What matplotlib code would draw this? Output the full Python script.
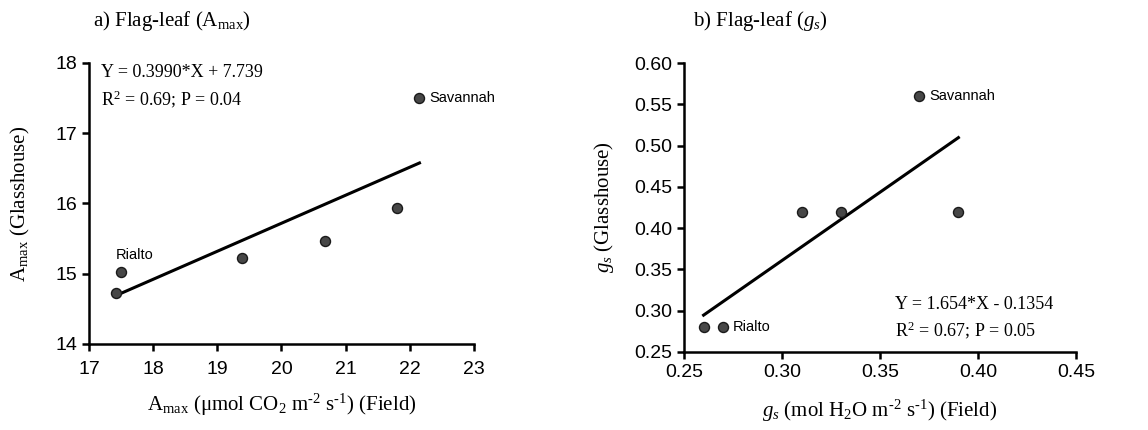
import matplotlib
matplotlib.use('Agg')
import matplotlib.pyplot as plt
import numpy as np

plt.rcParams['mathtext.fontset'] = 'custom'
plt.rcParams['mathtext.rm'] = 'Liberation Serif'
plt.rcParams['mathtext.it'] = 'Liberation Serif:italic'
plt.rcParams['mathtext.bf'] = 'Liberation Serif:bold'

SERIF = 'Liberation Serif'
SANS = 'Liberation Sans'

# a) Amax
amax_field = [17.42, 17.5, 19.38, 20.68, 21.8, 22.15]
amax_glass = [14.73, 15.03, 15.22, 15.47, 15.94, 17.5]
amax_slope, amax_icpt = 0.3990, 7.739

# b) gs
gs_field = [0.26, 0.27, 0.31, 0.33, 0.39, 0.37]
gs_glass = [0.28, 0.28, 0.42, 0.42, 0.42, 0.56]
gs_slope, gs_icpt = 1.654, -0.1354

fig = plt.figure(figsize=(11.48, 4.30), dpi=100)
ax1 = fig.add_axes([0.0775, 0.2, 0.3354, 0.6535])
ax2 = fig.add_axes([0.5958, 0.1814, 0.3415, 0.672])


def style(ax):
    for s in ['top', 'right']:
        ax.spines[s].set_visible(False)
    for s in ['left', 'bottom']:
        ax.spines[s].set_linewidth(1.8)
    ax.tick_params(width=1.8, length=5, labelsize=14, direction='out')
    for lab in ax.get_xticklabels() + ax.get_yticklabels():
        lab.set_family(SANS)


def panel(ax, x, y, slope, icpt):
    xs = np.array([min(x), max(x)])
    ax.plot(xs, slope * xs + icpt, color='black', lw=2.2, zorder=2)
    ax.scatter(x, y, s=52, color='#474747', edgecolor='#1a1a1a', lw=1, zorder=3)


panel(ax1, amax_field, amax_glass, amax_slope, amax_icpt)
ax1.set_xlim(17, 23)
ax1.set_ylim(14, 18)
ax1.set_xticks(range(17, 24))
ax1.set_yticks(range(14, 19))
style(ax1)
ax1.tick_params(axis='x', pad=7)
ax1.annotate('Savannah', (amax_field[5], amax_glass[5]), xytext=(7, 0),
             textcoords='offset points', va='center', ha='left', family=SANS, fontsize=10.5)
ax1.annotate('Rialto', (amax_field[1], amax_glass[1]), xytext=(-4, 7),
             textcoords='offset points', va='bottom', ha='left', family=SANS, fontsize=10.5)
ax1.text(0.03, 0.995, 'Y = 0.3990*X + 7.739\nR$^2$ = 0.69; P = 0.04', transform=ax1.transAxes,
         va='top', ha='left', family=SERIF, fontsize=13, linespacing=1.4)
ax1.set_xlabel(r'A$_{\mathrm{max}}$ ($\mathrm{\mu}$mol CO$_2$ m$^{\text{-2}}$ s$^{\text{-1}}$) (Field)',
               family=SERIF, fontsize=15, labelpad=10)
ax1.set_ylabel(r'A$_{\mathrm{max}}$ (Glasshouse)', family=SERIF, fontsize=15, labelpad=17)
fig.text(0.150, 0.952, r'a) Flag-leaf (A$_{\mathrm{max}}$)', family=SERIF, fontsize=15,
         va='center', ha='center')

panel(ax2, gs_field, gs_glass, gs_slope, gs_icpt)
ax2.set_xlim(0.25, 0.45)
ax2.set_ylim(0.25, 0.60)
ax2.set_xticks(np.arange(0.25, 0.451, 0.05))
ax2.set_yticks(np.arange(0.25, 0.601, 0.05))
ax2.xaxis.set_major_formatter(matplotlib.ticker.FormatStrFormatter('%.2f'))
ax2.yaxis.set_major_formatter(matplotlib.ticker.FormatStrFormatter('%.2f'))
style(ax2)
ax2.annotate('Savannah', (gs_field[5], gs_glass[5]), xytext=(7, 0),
             textcoords='offset points', va='center', ha='left', family=SANS, fontsize=10.5)
ax2.annotate('Rialto', (gs_field[1], gs_glass[1]), xytext=(7, 0),
             textcoords='offset points', va='center', ha='left', family=SANS, fontsize=10.5)
ax2.text(0.537, 0.195, 'Y = 1.654*X - 0.1354\nR$^2$ = 0.67; P = 0.05', transform=ax2.transAxes,
         va='top', ha='left', family=SERIF, fontsize=13, linespacing=1.4)
ax2.set_xlabel(r'$g_s$ (mol H$_2$O m$^{\text{-2}}$ s$^{\text{-1}}$) (Field)', family=SERIF,
               fontsize=15, labelpad=12)
ax2.set_ylabel(r'$g_s$ (Glasshouse)', family=SERIF, fontsize=15, labelpad=13)
fig.text(0.662, 0.952, r'b) Flag-leaf ($g_s$)', family=SERIF, fontsize=15,
         va='center', ha='center')

fig.savefig('out.png', dpi=100)
